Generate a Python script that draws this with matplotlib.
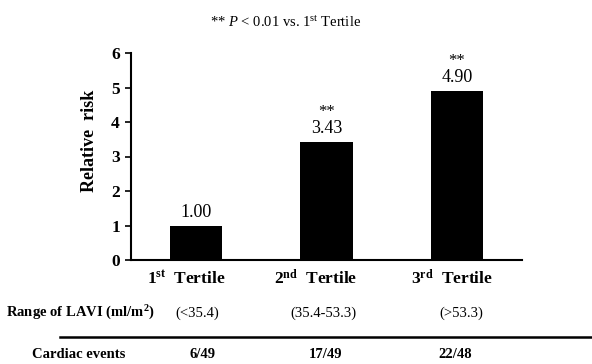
import matplotlib
matplotlib.use("Agg")
import matplotlib.pyplot as plt

plt.rcParams['font.family'] = ['Liberation Serif', 'DejaVu Serif']
plt.rcParams['mathtext.fontset'] = 'custom'
plt.rcParams['mathtext.rm'] = 'Liberation Serif'
plt.rcParams['mathtext.it'] = 'Liberation Serif:italic'
plt.rcParams['mathtext.bf'] = 'Liberation Serif:bold'

categories = ["1$^{\\mathbf{st}}$  Tertile", "2$^{\\mathbf{nd}}$  Tertile", "3$^{\\mathbf{rd}}$  Tertile"]
values = [1.00, 3.43, 4.90]
value_labels = ["1.00", "3.43", "4.90"]
significance = ["", "**", "**"]
lavi_ranges = ["(<35.4)", "(35.4-53.3)", "(>53.3)"]
cardiac_events = ["6/49", "17/49", "22/48"]
yticks = [0, 1, 2, 3, 4, 5, 6]

fig = plt.figure(figsize=(5.92, 3.64), dpi=100)
ax = fig.add_axes([131/592, 1-260/364, (522-131)/592, (260-53)/364])

x = list(range(len(values)))
ax.bar(x, values, width=0.4, color='black')
ax.set_xlim(-0.5, 2.5)
ax.set_ylim(0, 6)
ax.set_yticks(yticks)
ax.set_yticklabels([str(t) for t in yticks], fontsize=12.5, fontweight='bold')
ax.set_xticks(x)
ax.set_xticklabels([])
ax.tick_params(axis='x', length=0)
ax.tick_params(axis='y', length=4, width=1.2, direction='out', pad=4)
for s in ['top', 'right']:
    ax.spines[s].set_visible(False)
for s in ['left', 'bottom']:
    ax.spines[s].set_linewidth(1.5)

# category labels (slightly left of bar centres, as in the reference)
label_shift = [-10, -11, -5]
for xi, cat, dx in zip(x, categories, label_shift):
    ax.annotate(cat, (xi, 0), xytext=(dx * 0.72, -13.5), textcoords='offset points',
                ha='center', va='center', fontsize=12.5, fontweight='bold')

fig.text(90/592, 1-141/364, "Relative  risk", rotation=90, ha='center', va='center',
         fontsize=13, fontweight='bold')

for xi, v, lab, sig in zip(x, values, value_labels, significance):
    ax.annotate(lab, (xi, v), xytext=(0, 9.5), textcoords='offset points',
                ha='center', va='center', fontsize=13)
    if sig:
        ax.annotate(sig, (xi, v), xytext=(0, 21.5), textcoords='offset points',
                    ha='center', va='center', fontsize=12)

fig.text(286/592, 1-22/364, "** $P$ < 0.01 vs. 1$^{\\mathrm{st}}$ Tertile",
         ha='center', va='center', fontsize=10.5)

# table below
row1_y = 1 - 313/364
row2_y = 1 - 355/364
fig.text(80/592, row1_y, "Range of LAVI (ml/m$^{\\mathbf{2}}$)", ha='center', va='center',
         fontsize=10.5, fontweight='bold')
fig.text(79/592, row2_y, "Cardiac events", ha='center', va='center',
         fontsize=10.5, fontweight='bold')
range_x = [197, 323, 461]
event_x = [203, 326, 455]
for rx, r in zip(range_x, lavi_ranges):
    fig.text(rx/592, row1_y, r, ha='center', va='center', fontsize=10.5)
for ex, e in zip(event_x, cardiac_events):
    fig.text(ex/592, row2_y, e, ha='center', va='center', fontsize=10.5, fontweight='bold')
fig.add_artist(plt.Line2D([60/592, 1.0], [1-337/364, 1-337/364], color='black', lw=1.8,
                          transform=fig.transFigure))

fig.savefig("out.png", dpi=100)
